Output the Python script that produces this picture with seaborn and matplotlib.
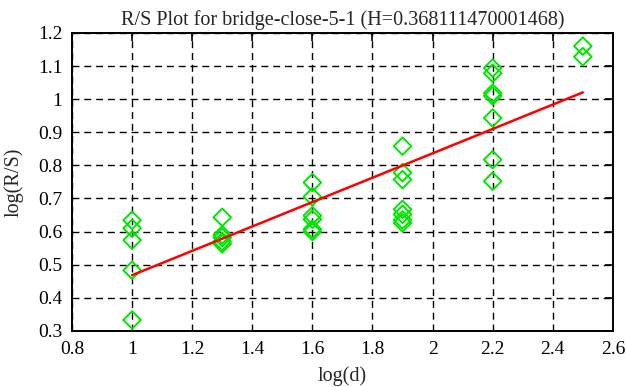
import numpy as np
import pandas as pd
import matplotlib
matplotlib.use("Agg")
import matplotlib.pyplot as plt
import seaborn as sns

# log(d) values, one entry per point
log_d = [1.0, 1.0, 1.0, 1.0, 1.0,
         1.3, 1.3, 1.3, 1.3, 1.3,
         1.6, 1.6, 1.6, 1.6, 1.6, 1.6,
         1.9, 1.9, 1.9, 1.9, 1.9, 1.9, 1.9,
         2.2, 2.2, 2.2, 2.2, 2.2, 2.2, 2.2,
         2.5, 2.5]
# log(R/S) values
log_rs = [0.634, 0.61, 0.574, 0.483, 0.333,
          0.643, 0.59, 0.582, 0.57, 0.563,
          0.748, 0.705, 0.648, 0.637, 0.607, 0.6,
          0.858, 0.778, 0.757, 0.667, 0.652, 0.635, 0.626,
          1.094, 1.078, 1.018, 1.01, 0.943, 0.817, 0.752,
          1.16, 1.128]

H = 0.368111470001468
intercept = 0.1
fit_x = [1.0, 2.5]

df = pd.DataFrame({"log(d)": log_d, "log(R/S)": log_rs})

sns.set_style("white")
plt.rcParams['font.family'] = ['Liberation Serif', 'DejaVu Serif']

fig = plt.figure(figsize=(6.26, 3.87), dpi=100)
ax = fig.add_axes([0.115, 0.145, 0.864, 0.770])

sns.scatterplot(data=df, x="log(d)", y="log(R/S)", marker="D", s=80,
                facecolors="none", edgecolor="#00e600", linewidth=1.4, ax=ax)
fit_y = [H * x + intercept for x in fit_x]
sns.lineplot(x=fit_x, y=fit_y, color="red", linewidth=1.8, ax=ax)

ax.set_xlim(0.8, 2.6)
ax.set_ylim(0.3, 1.2)
ax.set_xticks(np.arange(0.8, 2.61, 0.2))
ax.set_yticks(np.arange(0.3, 1.21, 0.1))
ax.set_xticklabels(["0.8", "1", "1.2", "1.4", "1.6", "1.8", "2", "2.2", "2.4", "2.6"])
ax.set_yticklabels(["0.3", "0.4", "0.5", "0.6", "0.7", "0.8", "0.9", "1", "1.1", "1.2"])
ax.grid(True, color="black", linestyle=(0, (5, 3.5)), linewidth=1.0)
ax.tick_params(direction="in", length=6, top=True, right=True, labelsize=14,
               colors="black", width=1.2, pad=7)
for s in ax.spines.values():
    s.set_color("black")
    s.set_linewidth(1.4)

ax.set_xlabel("log(d)", fontsize=14.5, labelpad=6)
ax.set_ylabel("log(R/S)", fontsize=14.5, labelpad=10)
ax.set_title("R/S Plot for bridge-close-5-1 (H=0.368111470001468)", fontsize=14.5, pad=6)

fig.savefig("out.png", dpi=100)
